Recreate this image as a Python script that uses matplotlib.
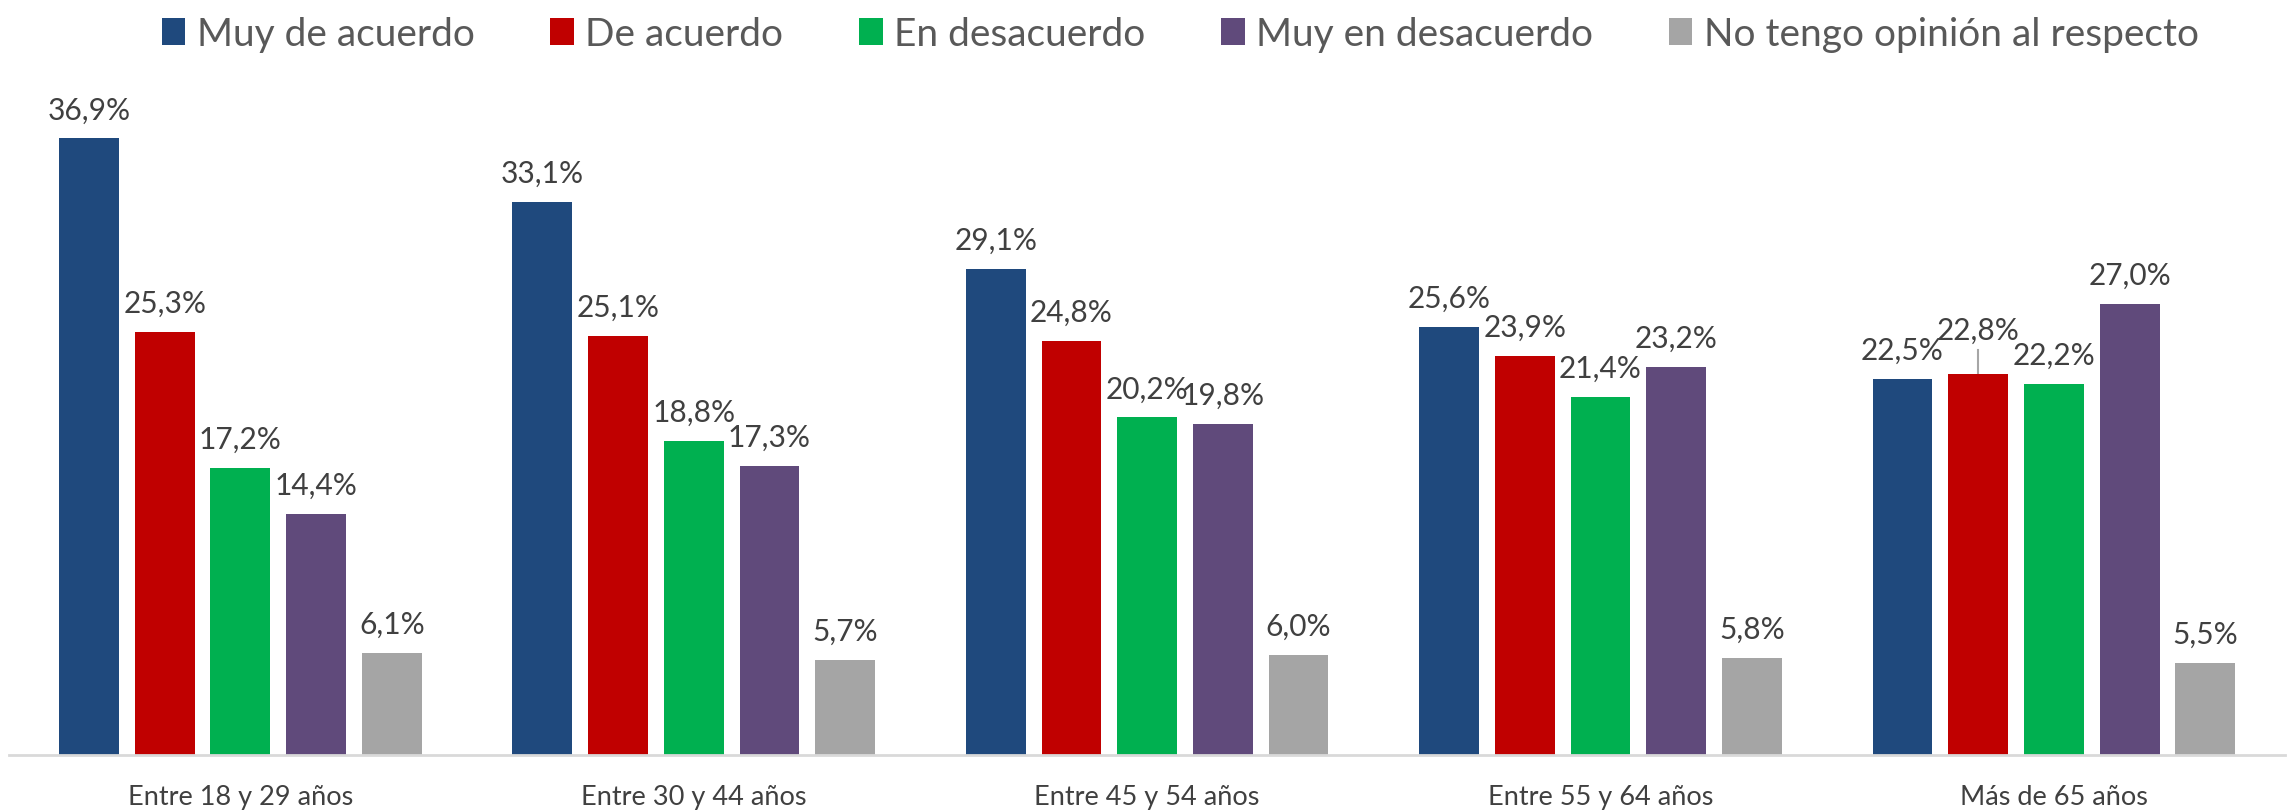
import numpy as np
import matplotlib
matplotlib.use('Agg')
import matplotlib.pyplot as plt

plt.rcParams['font.family'] = ['Lato', 'DejaVu Sans']

# data
grupos = ['Entre 18 y 29 años', 'Entre 30 y 44 años', 'Entre 45 y 54 años',
          'Entre 55 y 64 años', 'Más de 65 años']
series = ['Muy de acuerdo', 'De acuerdo', 'En desacuerdo',
          'Muy en desacuerdo', 'No tengo opinión al respecto']
muy_acuerdo = [36.9, 33.1, 29.1, 25.6, 22.5]
de_acuerdo = [25.3, 25.1, 24.8, 23.9, 22.8]
en_desacuerdo = [17.2, 18.8, 20.2, 21.4, 22.2]
muy_desacuerdo = [14.4, 17.3, 19.8, 23.2, 27.0]
sin_opinion = [6.1, 5.7, 6.0, 5.8, 5.5]

valores = [muy_acuerdo, de_acuerdo, en_desacuerdo, muy_desacuerdo, sin_opinion]
colores = ['#1F497D', '#C00000', '#00B050', '#604A7B', '#A5A5A5']

fig = plt.figure(figsize=(22.92, 8.12), dpi=100)
ax = fig.add_axes([0.004, 0.069, 0.993, 0.823])

x = np.arange(len(grupos))
paso = 0.167
ancho = 0.132

for i, (nombre, vals, col) in enumerate(zip(series, valores, colores)):
    pos = x + (i - 2) * paso
    ax.bar(pos, vals, ancho, color=col, label=nombre, zorder=2)
    for j, (px, v) in enumerate(zip(pos, vals)):
        off = 21
        # the 22,8% label in the last group is pushed up with a leader line
        if i == 1 and j == 4:
            off = 32
            ax.plot([px, px], [v, v + 1.45], color='#A6A6A6', lw=1.5, zorder=1)
        ax.annotate(f'{v:.1f}%'.replace('.', ','), (px, v), xytext=(0, off),
                    textcoords='offset points', ha='center', va='center',
                    fontsize=21.5, color='#404040')

ax.set_xlim(-0.51, 4.51)
ax.set_ylim(0, 40)
ax.set_xticks(x)
ax.set_xticklabels(grupos, fontsize=19.5, color='#404040')
ax.tick_params(axis='x', length=0, pad=21)
ax.set_yticks([])
for s in ['top', 'right', 'left']:
    ax.spines[s].set_visible(False)
ax.spines['bottom'].set_color('#D9D9D9')
ax.spines['bottom'].set_linewidth(2)

fig.legend(loc='upper center', bbox_to_anchor=(0.515, 1.022), ncol=5, frameon=False,
           fontsize=28, labelcolor='#595959', handlelength=0.6, handleheight=0.7,
           handletextpad=0.3, columnspacing=1.95)

fig.savefig('out.png', dpi=100)
